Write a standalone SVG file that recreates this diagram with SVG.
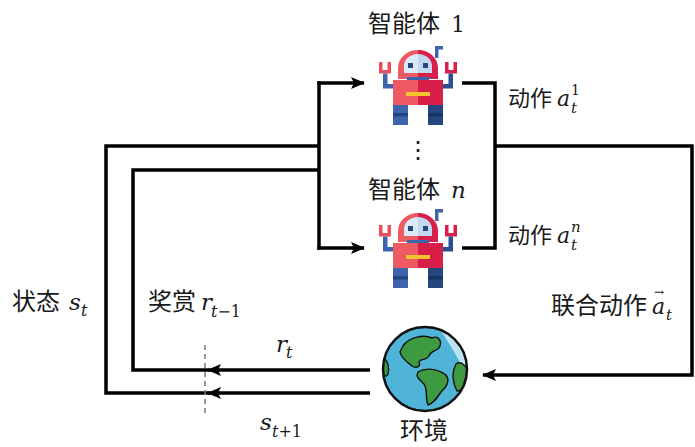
<svg xmlns="http://www.w3.org/2000/svg" xmlns:xlink="http://www.w3.org/1999/xlink" width="695" height="447" viewBox="0 0 695 447">
  <style>
    .cn { font-family: "Noto Sans CJK SC", "Noto Sans", sans-serif; font-size: 24px; fill: #1a1a1a; }
    .cs { font-family: "Noto Sans CJK SC", "Noto Sans", sans-serif; font-size: 22px; fill: #1a1a1a; }
    .m { font-family: "DejaVu Serif", "Liberation Serif", serif; font-style: italic; fill: #1a1a1a; }
    .mu { font-family: "DejaVu Serif", "Liberation Serif", serif; font-style: normal; fill: #1a1a1a; }
    .wire { fill: none; stroke: #000; stroke-width: 3.5; stroke-linejoin: miter; stroke-linecap: butt; }
    .guide { fill: none; stroke: #777; stroke-width: 1.5; stroke-dasharray: 5 4; }
    .land { fill: #3d9a40; stroke: #111; stroke-width: 1.4; stroke-linejoin: round; }
  </style>
  <defs>
    <marker id="head" viewBox="0 0 14 12" refX="13" refY="6" markerWidth="14" markerHeight="12" markerUnits="userSpaceOnUse" orient="auto">
      <path d="M0,0 L14,6 L0,12 L3,6 Z" fill="#000"/>
    </marker>
    <clipPath id="globeClip">
      <circle cx="425" cy="369" r="42"/>
    </clipPath>
    <!-- robot figure, drawn at the top agent position -->
    <g id="robot">
      <!-- antenna -->
      <rect x="435" y="46" width="3.5" height="12" fill="#3e64ae"/>
      <rect x="435" y="46" width="8" height="3.5" fill="#3e64ae"/>
      <!-- claws -->
      <path d="M379,62 h3.5 v8 h5 v-8 h3.5 v11.5 h-12 Z" fill="#e8505b"/>
      <path d="M445,62 h3.5 v8 h5 v-8 h3.5 v11.5 h-12 Z" fill="#d81f4a"/>
      <!-- arms -->
      <path d="M383,73.5 h4.5 v10.5 h6 v4.5 h-10.5 Z" fill="#3e64ae"/>
      <path d="M453,73.5 h-4.5 v10.5 h-6 v4.5 h10.5 Z" fill="#2c4f93"/>
      <!-- head -->
      <path d="M398,79 V68 A20,18 0 0 1 418,50 V79 Z" fill="#ee5a62"/>
      <path d="M418,50 A20,18 0 0 1 438,68 V79 H418 Z" fill="#d81f4a"/>
      <path d="M404,73 V66 A14,12 0 0 1 418,54 V73 Z" fill="#dce9f6"/>
      <path d="M418,54 A14,12 0 0 1 432,66 V73 H418 Z" fill="#c3d8ee"/>
      <rect x="408" y="63" width="5" height="5" fill="#24477f"/>
      <rect x="423" y="63" width="5" height="5" fill="#24477f"/>
      <!-- neck -->
      <rect x="407" y="77" width="22" height="4" fill="#3e64ae"/>
      <!-- body -->
      <rect x="393" y="80" width="25" height="25" fill="#ee5a62"/>
      <rect x="418" y="80" width="25" height="25" fill="#d81f4a"/>
      <rect x="406" y="92" width="24" height="4" fill="#f4c430"/>
      <!-- tracks -->
      <rect x="393" y="105" width="15" height="20" fill="#3e64ae"/>
      <rect x="393" y="113" width="15" height="3.5" fill="#24477f"/>
      <rect x="428" y="105" width="15" height="20" fill="#24477f"/>
      <rect x="428" y="113" width="15" height="3.5" fill="#183561"/>
    </g>
  </defs>

  <rect width="695" height="447" fill="#fff"/>

  <!-- connectors -->
  <g id="connectors">
    <!-- state feedback loop -->
    <path class="wire" d="M370,393 H208" marker-end="url(#head)"/>
    <path class="wire" d="M209,393 H106 V146 H319"/>
    <!-- reward feedback loop -->
    <path class="wire" d="M370,370 H208" marker-end="url(#head)"/>
    <path class="wire" d="M209,370 H133 V170 H319"/>
    <!-- fan-out to agents -->
    <path class="wire" d="M319,81.25 V249.75"/>
    <path class="wire" d="M317.25,83 H364" marker-end="url(#head)"/>
    <path class="wire" d="M317.25,248 H364" marker-end="url(#head)"/>
    <!-- actions gathered into the joint action -->
    <path class="wire" d="M462,83 H495 V248 H462"/>
    <path class="wire" d="M495,146 H692 V375 H483" marker-end="url(#head)"/>
    <!-- time-step divider -->
    <path class="guide" d="M205,345 V413"/>
  </g>

  <!-- agent 1 -->
  <g id="agent-1">
    <use xlink:href="#robot" href="#robot"/>
    <text class="cn" x="368" y="32">智能体</text>
    <text class="mu" x="451" y="32" font-size="22">1</text>
  </g>

  <text class="cn" x="418" y="158" text-anchor="middle" font-size="18">⋮</text>

  <!-- agent n -->
  <g id="agent-n">
    <use xlink:href="#robot" href="#robot" y="163"/>
    <text class="cn" x="368" y="198">智能体</text>
    <text class="m" x="451" y="198" font-size="23">n</text>
  </g>

  <!-- environment -->
  <g id="environment">
    <circle cx="425" cy="369" r="42" fill="#4fb4d8"/>
    <g clip-path="url(#globeClip)">
      <path d="M440,330 A42,42 0 0 1 466,372 C458,360 452,346 440,330 Z" fill="#bfe4f1"/>
      <path class="land" d="M403,346 C409,337 424,334 432,338 C438,335 443,341 439,348 C435,352 431,350 429,356 C426,361 421,358 419,362 C421,366 417,369 412,366 C407,362 401,358 400,352 Z"/>
      <path class="land" d="M418,372 C426,367 438,369 446,375 C451,382 445,388 441,392 C437,398 433,404 428,405 C425,398 428,390 424,384 C420,380 415,377 418,372 Z"/>
      <path class="land" d="M456,364 C461,360 468,367 469,375 C468,383 463,391 457,391 C453,384 451,373 456,364 Z"/>
      <path class="land" d="M380,358 C386,356 390,365 388,374 C386,379 381,376 380,358 Z"/>
      <path class="land" d="M387,390 C392,392 395,398 393,402 C389,400 386,396 387,390 Z"/>
    </g>
    <circle cx="425" cy="369" r="42" fill="none" stroke="#111" stroke-width="2.5"/>
    <text class="cn" x="400" y="439" font-size="23">环境</text>
  </g>

  <!-- labels -->
  <g id="labels">
    <text class="cs" x="508" y="106">动作</text>
    <text class="m" x="557" y="106" font-size="22">a</text>
    <text class="mu" x="571" y="95" font-size="14">1</text>
    <text class="m" x="571" y="113" font-size="15">t</text>

    <text class="cs" x="508" y="243">动作</text>
    <text class="m" x="557" y="243" font-size="22">a</text>
    <text class="m" x="571" y="232" font-size="15">n</text>
    <text class="m" x="571" y="250" font-size="15">t</text>

    <text class="cn" x="12" y="310">状态</text>
    <text class="m" x="69" y="310" font-size="23">s</text>
    <text class="m" x="81" y="316" font-size="16">t</text>

    <text class="cn" x="148" y="310">奖赏</text>
    <text class="m" x="201" y="310" font-size="23">r</text>
    <text class="m" x="211" y="317" font-size="16">t<tspan class="mu">−1</tspan></text>

    <text class="m" x="276" y="352" font-size="23">r</text>
    <text class="m" x="286" y="358" font-size="16">t</text>

    <text class="m" x="260" y="430" font-size="23">s</text>
    <text class="m" x="272" y="437" font-size="16">t<tspan class="mu">+1</tspan></text>

    <text class="cn" x="551" y="314">联合动作</text>
    <text class="m" x="652" y="314" font-size="22">a</text>
    <text class="mu" x="654" y="296" font-size="12">→</text>
    <text class="m" x="666" y="320" font-size="15">t</text>
  </g>
</svg>
